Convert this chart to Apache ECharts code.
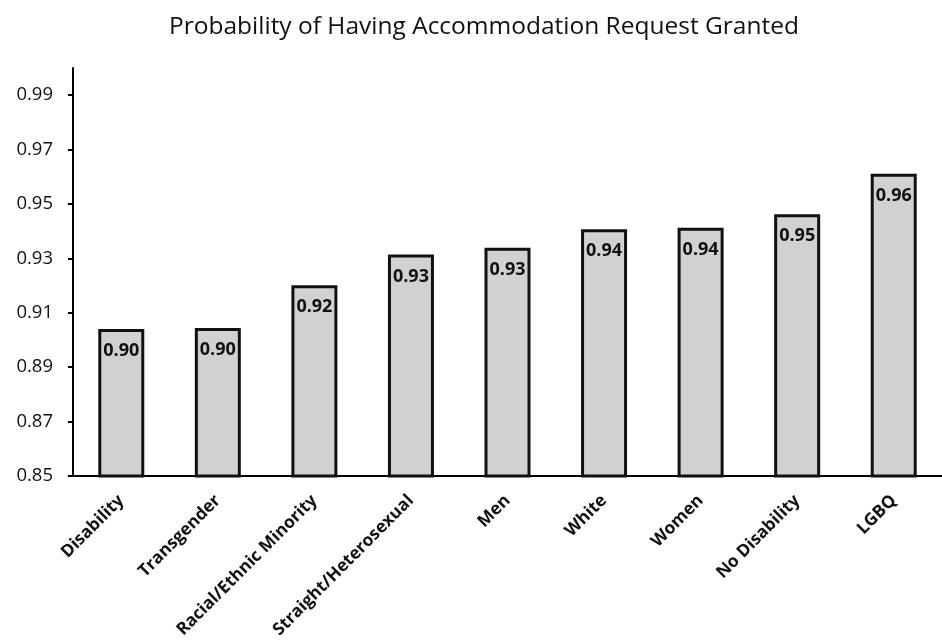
<!DOCTYPE html>
<html>
<head>
<meta charset="utf-8">
<title>Probability of Having Accommodation Request Granted</title>
<script src="https://cdn.jsdelivr.net/npm/echarts@6/dist/echarts.min.js"></script>
<style>
  html, body { margin: 0; padding: 0; background: #ffffff; }
  #chart { width: 942px; height: 641px; }
</style>
</head>
<body>
<div id="chart"></div>
<script>
// Groups, ordered from lowest to highest probability
const categories = [
  'Disability', 'Transgender', 'Racial/Ethnic Minority', 'Straight/Heterosexual',
  'Men', 'White', 'Women', 'No Disability', 'LGBQ'
];

// Probability of having an accommodation request granted
const probabilities = [0.9040, 0.9044, 0.9201, 0.9314, 0.9339, 0.9407, 0.9413, 0.9462, 0.9611];

// Y-axis tick values
const yTicks = [0.85, 0.87, 0.89, 0.91, 0.93, 0.95, 0.97, 0.99];

const FONT = '"Open Sans", "Noto Sans", "DejaVu Sans", sans-serif';

const chart = echarts.init(document.getElementById('chart'), null, { renderer: 'canvas' });

chart.setOption({
  animation: false,
  backgroundColor: '#ffffff',
  title: {
    text: 'Probability of Having Accommodation Request Granted',
    left: 164,
    top: 10,
    textStyle: { fontFamily: FONT, fontSize: 24.5, fontWeight: 'normal', color: '#111111' }
  },
  grid: { left: 73, top: 68, width: 872, bottom: 163, containLabel: false },
  xAxis: {
    type: 'category',
    data: categories,
    axisLine: { lineStyle: { color: '#000000', width: 2 } },
    axisTick: { show: false },
    axisLabel: {
      rotate: 45,
      interval: 0,
      margin: 22,
      fontFamily: FONT,
      fontSize: 17.2,
      fontWeight: 'bold',
      color: '#111111'
    }
  },
  yAxis: {
    type: 'value',
    min: 0.85,
    max: 1.0,
    axisLine: { show: true, lineStyle: { color: '#000000', width: 2 } },
    axisTick: { show: true, length: 5, lineStyle: { color: '#000000', width: 2 }, customValues: yTicks },
    splitLine: { show: false },
    axisLabel: {
      customValues: yTicks,
      margin: 20,
      fontFamily: FONT,
      fontSize: 18.5,
      color: '#111111',
      formatter: v => v.toFixed(2)
    }
  },
  series: [{
    type: 'bar',
    data: probabilities,
    barWidth: 46,
    itemStyle: {
      color: '#d0d2d1',
      borderColor: '#111111',
      borderWidth: 3
    },
    label: {
      show: true,
      position: 'insideTop',
      distance: 13,
      fontFamily: FONT,
      fontSize: 18,
      fontWeight: 'bold',
      color: '#111111',
      formatter: p => p.value.toFixed(2)
    }
  }]
});
</script>
</body>
</html>
